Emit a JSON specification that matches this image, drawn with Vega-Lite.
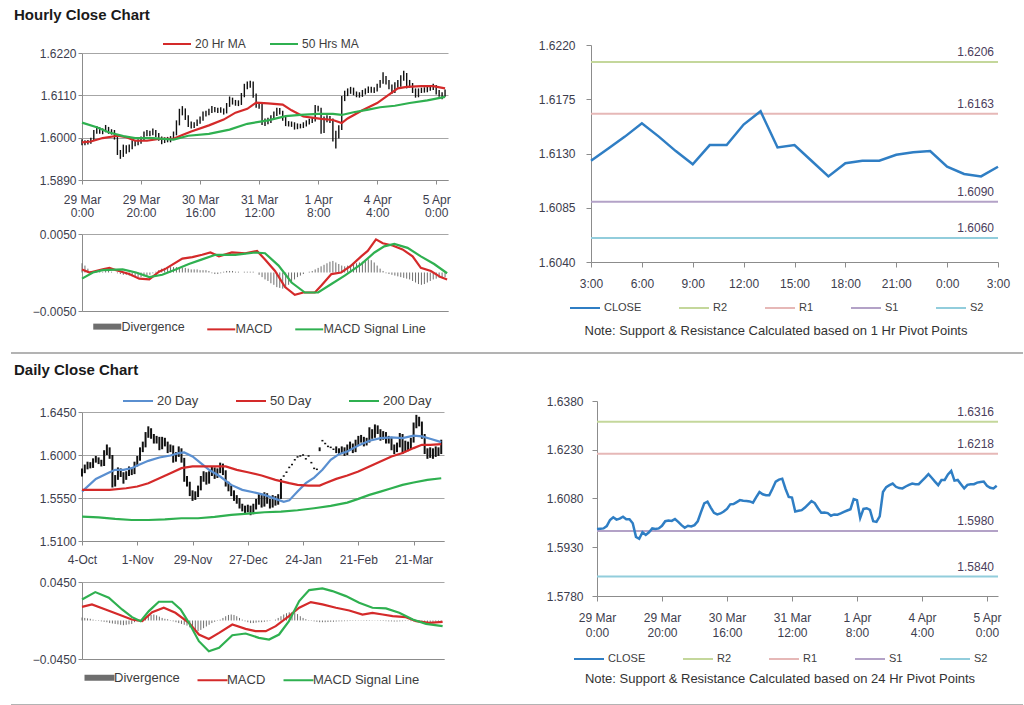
{
"$schema": "https://vega.github.io/schema/vega-lite/v6.json",
"background": "white",
"padding": {"left": 10, "top": 8, "right": 0, "bottom": 0},
"config": {
  "font": "Liberation Sans",
  "view": {"stroke": null},
  "axis": {"labelFont": "Liberation Sans", "labelFontSize": 12, "labelColor": "#3d3d4d", "domainColor": "#8c8c8c", "tickColor": "#8c8c8c", "gridColor": "#a6a6a6"},
  "legend": {"labelFont": "Liberation Sans", "labelFontSize": 12, "labelColor": "#3d3d3d", "padding": 0},
  "title": {"font": "Liberation Sans"}
},
"datasets": {
  "hourly": [
    {"h":0,"c":1.5986,"lo":1.5980,"hi":1.5996},{"h":1,"c":1.5987,"lo":1.5980,"hi":1.5993},{"h":2,"c":1.5988,"lo":1.5982,"hi":1.5994},{"h":3,"c":1.5995,"lo":1.5984,"hi":1.6000},{"h":4,"c":1.6014,"lo":1.5992,"hi":1.6020},{"h":5,"c":1.6022,"lo":1.6010,"hi":1.6030},{"h":6,"c":1.6015,"lo":1.6010,"hi":1.6027},{"h":7,"c":1.6018,"lo":1.6009,"hi":1.6024},{"h":8,"c":1.6024,"lo":1.6014,"hi":1.6033},{"h":9,"c":1.6016,"lo":1.6010,"hi":1.6028},
    {"h":10,"c":1.6016,"lo":1.6008,"hi":1.6022},{"h":11,"c":1.6004,"lo":1.5995,"hi":1.6020},{"h":12,"c":1.5962,"lo":1.5955,"hi":1.6008},{"h":13,"c":1.5956,"lo":1.5945,"hi":1.5968},{"h":14,"c":1.5976,"lo":1.5950,"hi":1.5982},{"h":15,"c":1.5968,"lo":1.5958,"hi":1.5980},{"h":16,"c":1.5976,"lo":1.5962,"hi":1.5982},{"h":17,"c":1.5988,"lo":1.5970,"hi":1.5993},{"h":18,"c":1.5986,"lo":1.5978,"hi":1.5994},{"h":19,"c":1.5988,"lo":1.5980,"hi":1.5996},
    {"h":20,"c":1.5996,"lo":1.5984,"hi":1.6003},{"h":21,"c":1.6010,"lo":1.5992,"hi":1.6016},{"h":22,"c":1.6012,"lo":1.6004,"hi":1.6020},{"h":23,"c":1.6011,"lo":1.6004,"hi":1.6018},{"h":24,"c":1.6017,"lo":1.6006,"hi":1.6024},{"h":25,"c":1.6008,"lo":1.6002,"hi":1.6020},{"h":26,"c":1.5998,"lo":1.5992,"hi":1.6012},{"h":27,"c":1.5990,"lo":1.5983,"hi":1.6003},{"h":28,"c":1.5996,"lo":1.5986,"hi":1.6001},{"h":29,"c":1.5994,"lo":1.5988,"hi":1.6002},
    {"h":30,"c":1.5998,"lo":1.5988,"hi":1.6004},{"h":31,"c":1.6010,"lo":1.5994,"hi":1.6016},{"h":32,"c":1.6038,"lo":1.6006,"hi":1.6045},{"h":33,"c":1.6065,"lo":1.6032,"hi":1.6075},{"h":34,"c":1.6070,"lo":1.6058,"hi":1.6082},{"h":35,"c":1.6052,"lo":1.6046,"hi":1.6076},{"h":36,"c":1.6036,"lo":1.6028,"hi":1.6058},{"h":37,"c":1.6031,"lo":1.6024,"hi":1.6042},{"h":38,"c":1.6034,"lo":1.6025,"hi":1.6040},{"h":39,"c":1.6040,"lo":1.6030,"hi":1.6047},
    {"h":40,"c":1.6048,"lo":1.6036,"hi":1.6055},{"h":41,"c":1.6062,"lo":1.6044,"hi":1.6068},{"h":42,"c":1.6063,"lo":1.6055,"hi":1.6070},{"h":43,"c":1.6069,"lo":1.6058,"hi":1.6075},{"h":44,"c":1.6075,"lo":1.6064,"hi":1.6082},{"h":45,"c":1.6073,"lo":1.6066,"hi":1.6080},{"h":46,"c":1.6072,"lo":1.6064,"hi":1.6078},{"h":47,"c":1.6071,"lo":1.6065,"hi":1.6079},{"h":48,"c":1.6067,"lo":1.6060,"hi":1.6076},{"h":49,"c":1.6084,"lo":1.6063,"hi":1.6090},
    {"h":50,"c":1.6100,"lo":1.6080,"hi":1.6107},{"h":51,"c":1.6093,"lo":1.6086,"hi":1.6104},{"h":52,"c":1.6090,"lo":1.6083,"hi":1.6098},{"h":53,"c":1.6090,"lo":1.6082,"hi":1.6097},{"h":54,"c":1.6110,"lo":1.6085,"hi":1.6116},{"h":55,"c":1.6132,"lo":1.6105,"hi":1.6140},{"h":56,"c":1.6138,"lo":1.6126,"hi":1.6146},{"h":57,"c":1.6141,"lo":1.6130,"hi":1.6148},{"h":58,"c":1.6110,"lo":1.6104,"hi":1.6146},{"h":59,"c":1.6085,"lo":1.6078,"hi":1.6115},
    {"h":60,"c":1.6083,"lo":1.6075,"hi":1.6092},{"h":61,"c":1.6040,"lo":1.6033,"hi":1.6088},{"h":62,"c":1.6042,"lo":1.6030,"hi":1.6050},{"h":63,"c":1.6044,"lo":1.6035,"hi":1.6052},{"h":64,"c":1.6052,"lo":1.6038,"hi":1.6058},{"h":65,"c":1.6062,"lo":1.6046,"hi":1.6068},{"h":66,"c":1.6072,"lo":1.6056,"hi":1.6078},{"h":67,"c":1.6066,"lo":1.6060,"hi":1.6077},{"h":68,"c":1.6050,"lo":1.6044,"hi":1.6070},{"h":69,"c":1.6036,"lo":1.6030,"hi":1.6054},
    {"h":70,"c":1.6037,"lo":1.6029,"hi":1.6043},{"h":71,"c":1.6035,"lo":1.6028,"hi":1.6042},{"h":72,"c":1.6027,"lo":1.6021,"hi":1.6040},{"h":73,"c":1.6031,"lo":1.6022,"hi":1.6037},{"h":74,"c":1.6030,"lo":1.6024,"hi":1.6036},{"h":75,"c":1.6034,"lo":1.6025,"hi":1.6040},{"h":76,"c":1.6039,"lo":1.6029,"hi":1.6045},{"h":77,"c":1.6043,"lo":1.6034,"hi":1.6049},{"h":78,"c":1.6047,"lo":1.6038,"hi":1.6053},{"h":79,"c":1.6078,"lo":1.6042,"hi":1.6085},
    {"h":80,"c":1.6075,"lo":1.6068,"hi":1.6083},{"h":81,"c":1.6020,"lo":1.6010,"hi":1.6078},{"h":82,"c":1.6048,"lo":1.6012,"hi":1.6055},{"h":83,"c":1.6050,"lo":1.6040,"hi":1.6058},{"h":84,"c":1.6045,"lo":1.6038,"hi":1.6056},{"h":85,"c":1.6010,"lo":1.5990,"hi":1.6050},{"h":86,"c":1.6008,"lo":1.5972,"hi":1.6018},{"h":87,"c":1.6025,"lo":1.5998,"hi":1.6032},{"h":88,"c":1.6100,"lo":1.6020,"hi":1.6108},{"h":89,"c":1.6115,"lo":1.6095,"hi":1.6122},
    {"h":90,"c":1.6121,"lo":1.6108,"hi":1.6128},{"h":91,"c":1.6126,"lo":1.6114,"hi":1.6132},{"h":92,"c":1.6116,"lo":1.6110,"hi":1.6130},{"h":93,"c":1.6112,"lo":1.6105,"hi":1.6120},{"h":94,"c":1.6111,"lo":1.6104,"hi":1.6118},{"h":95,"c":1.6117,"lo":1.6106,"hi":1.6124},{"h":96,"c":1.6122,"lo":1.6112,"hi":1.6128},{"h":97,"c":1.6126,"lo":1.6116,"hi":1.6133},{"h":98,"c":1.6124,"lo":1.6117,"hi":1.6132},{"h":99,"c":1.6124,"lo":1.6116,"hi":1.6131},
    {"h":100,"c":1.6134,"lo":1.6120,"hi":1.6140},{"h":101,"c":1.6144,"lo":1.6130,"hi":1.6150},{"h":102,"c":1.6155,"lo":1.6140,"hi":1.6170},{"h":103,"c":1.6144,"lo":1.6138,"hi":1.6160},{"h":104,"c":1.6132,"lo":1.6126,"hi":1.6150},{"h":105,"c":1.6121,"lo":1.6114,"hi":1.6138},{"h":106,"c":1.6137,"lo":1.6116,"hi":1.6144},{"h":107,"c":1.6137,"lo":1.6130,"hi":1.6150},{"h":108,"c":1.6154,"lo":1.6132,"hi":1.6162},{"h":109,"c":1.6165,"lo":1.6148,"hi":1.6174},
    {"h":110,"c":1.6135,"lo":1.6128,"hi":1.6168},{"h":111,"c":1.6137,"lo":1.6130,"hi":1.6150},{"h":112,"c":1.6124,"lo":1.6116,"hi":1.6142},{"h":113,"c":1.6111,"lo":1.6104,"hi":1.6128},{"h":114,"c":1.6122,"lo":1.6105,"hi":1.6128},{"h":115,"c":1.6124,"lo":1.6116,"hi":1.6130},{"h":116,"c":1.6124,"lo":1.6117,"hi":1.6131},{"h":117,"c":1.6129,"lo":1.6118,"hi":1.6135},{"h":118,"c":1.6131,"lo":1.6122,"hi":1.6137},{"h":119,"c":1.6132,"lo":1.6124,"hi":1.6140},
    {"h":120,"c":1.6119,"lo":1.6112,"hi":1.6137},{"h":121,"c":1.6113,"lo":1.6106,"hi":1.6124},{"h":122,"c":1.6111,"lo":1.6100,"hi":1.6118},{"h":123,"c":1.6119,"lo":1.6106,"hi":1.6125}
  ],
  "hma": [
    {"h":0,"s":"20 Hr MA","v":1.5988},{"h":3,"s":"20 Hr MA","v":1.5990},{"h":7,"s":"20 Hr MA","v":1.5999},{"h":12,"s":"20 Hr MA","v":1.6005},{"h":15,"s":"20 Hr MA","v":1.6001},{"h":18,"s":"20 Hr MA","v":1.5992},{"h":22,"s":"20 Hr MA","v":1.5992},{"h":26,"s":"20 Hr MA","v":1.5997},{"h":31,"s":"20 Hr MA","v":1.5997},{"h":34,"s":"20 Hr MA","v":1.6007},{"h":37,"s":"20 Hr MA","v":1.6016},{"h":43,"s":"20 Hr MA","v":1.6032},{"h":48,"s":"20 Hr MA","v":1.6047},{"h":52,"s":"20 Hr MA","v":1.6065},{"h":56,"s":"20 Hr MA","v":1.6075},{"h":59,"s":"20 Hr MA","v":1.6091},{"h":63,"s":"20 Hr MA","v":1.6089},{"h":68,"s":"20 Hr MA","v":1.6086},{"h":71,"s":"20 Hr MA","v":1.6071},{"h":75,"s":"20 Hr MA","v":1.6055},{"h":78,"s":"20 Hr MA","v":1.6052},{"h":81,"s":"20 Hr MA","v":1.6049},{"h":85,"s":"20 Hr MA","v":1.6046},{"h":88,"s":"20 Hr MA","v":1.6038},{"h":90,"s":"20 Hr MA","v":1.6050},{"h":95,"s":"20 Hr MA","v":1.6071},{"h":100,"s":"20 Hr MA","v":1.6090},{"h":104,"s":"20 Hr MA","v":1.6112},{"h":107,"s":"20 Hr MA","v":1.6128},{"h":110,"s":"20 Hr MA","v":1.6132},{"h":115,"s":"20 Hr MA","v":1.6134},{"h":119,"s":"20 Hr MA","v":1.6134},{"h":123,"s":"20 Hr MA","v":1.6128},
    {"h":0,"s":"50 Hrs MA","v":1.6039},{"h":5,"s":"50 Hrs MA","v":1.6027},{"h":9,"s":"50 Hrs MA","v":1.6014},{"h":14,"s":"50 Hrs MA","v":1.6004},{"h":18,"s":"50 Hrs MA","v":1.5999},{"h":24,"s":"50 Hrs MA","v":1.5999},{"h":31,"s":"50 Hrs MA","v":1.5995},{"h":36,"s":"50 Hrs MA","v":1.6005},{"h":43,"s":"50 Hrs MA","v":1.6010},{"h":50,"s":"50 Hrs MA","v":1.6021},{"h":56,"s":"50 Hrs MA","v":1.6036},{"h":63,"s":"50 Hrs MA","v":1.6045},{"h":69,"s":"50 Hrs MA","v":1.6056},{"h":74,"s":"50 Hrs MA","v":1.6059},{"h":80,"s":"50 Hrs MA","v":1.6062},{"h":85,"s":"50 Hrs MA","v":1.6062},{"h":88,"s":"50 Hrs MA","v":1.6059},{"h":92,"s":"50 Hrs MA","v":1.6066},{"h":97,"s":"50 Hrs MA","v":1.6073},{"h":101,"s":"50 Hrs MA","v":1.6079},{"h":106,"s":"50 Hrs MA","v":1.6083},{"h":111,"s":"50 Hrs MA","v":1.6090},{"h":117,"s":"50 Hrs MA","v":1.6097},{"h":123,"s":"50 Hrs MA","v":1.6106}
  ],
  "hmacd": [
    {"h":0,"s":"MACD","v":0.0004},{"h":2.6,"s":"MACD","v":0.0},{"h":7,"s":"MACD","v":0.0004},{"h":9.3,"s":"MACD","v":0.0006},{"h":11.6,"s":"MACD","v":0.0003},{"h":16,"s":"MACD","v":-0.0002},{"h":19.4,"s":"MACD","v":-0.0008},{"h":22.8,"s":"MACD","v":-0.0009},{"h":26.1,"s":"MACD","v":0.0001},{"h":28.4,"s":"MACD","v":0.0005},{"h":34,"s":"MACD","v":0.0018},{"h":37.4,"s":"MACD","v":0.0020},{"h":40.7,"s":"MACD","v":0.0023},{"h":43.5,"s":"MACD","v":0.0026},{"h":46.4,"s":"MACD","v":0.0021},{"h":50.8,"s":"MACD","v":0.0026},{"h":55.3,"s":"MACD","v":0.0025},{"h":59.3,"s":"MACD","v":0.0028},{"h":62,"s":"MACD","v":0.0017},{"h":65.4,"s":"MACD","v":0.0002},{"h":68.8,"s":"MACD","v":-0.0019},{"h":72.1,"s":"MACD","v":-0.0029},{"h":75,"s":"MACD","v":-0.0026},{"h":78.9,"s":"MACD","v":-0.0026},{"h":81.1,"s":"MACD","v":-0.0017},{"h":84.5,"s":"MACD","v":-0.0002},{"h":87.8,"s":"MACD","v":0.0},{"h":91.2,"s":"MACD","v":0.0009},{"h":94.6,"s":"MACD","v":0.0021},{"h":96.8,"s":"MACD","v":0.0028},{"h":99.6,"s":"MACD","v":0.0043},{"h":101.9,"s":"MACD","v":0.0038},{"h":105.2,"s":"MACD","v":0.0035},{"h":108.6,"s":"MACD","v":0.0030},{"h":112,"s":"MACD","v":0.0021},{"h":114.8,"s":"MACD","v":0.0006},{"h":118.2,"s":"MACD","v":0.0002},{"h":121.5,"s":"MACD","v":-0.0006},{"h":123.7,"s":"MACD","v":-0.0009},
    {"h":0,"s":"MACD Signal Line","v":-0.0008},{"h":3.7,"s":"MACD Signal Line","v":0.0},{"h":7,"s":"MACD Signal Line","v":0.0003},{"h":13.8,"s":"MACD Signal Line","v":0.0004},{"h":18.3,"s":"MACD Signal Line","v":0.0},{"h":22.8,"s":"MACD Signal Line","v":-0.0006},{"h":27.2,"s":"MACD Signal Line","v":-0.0003},{"h":31.7,"s":"MACD Signal Line","v":0.0004},{"h":36.2,"s":"MACD Signal Line","v":0.0011},{"h":40.7,"s":"MACD Signal Line","v":0.0017},{"h":45.2,"s":"MACD Signal Line","v":0.0023},{"h":51.9,"s":"MACD Signal Line","v":0.0023},{"h":58.7,"s":"MACD Signal Line","v":0.0026},{"h":62,"s":"MACD Signal Line","v":0.0025},{"h":66.6,"s":"MACD Signal Line","v":0.0009},{"h":71,"s":"MACD Signal Line","v":-0.0013},{"h":75.5,"s":"MACD Signal Line","v":-0.0026},{"h":80,"s":"MACD Signal Line","v":-0.0026},{"h":84.5,"s":"MACD Signal Line","v":-0.0015},{"h":89,"s":"MACD Signal Line","v":-0.0004},{"h":94.6,"s":"MACD Signal Line","v":0.0011},{"h":99.1,"s":"MACD Signal Line","v":0.0026},{"h":102.4,"s":"MACD Signal Line","v":0.0034},{"h":105.8,"s":"MACD Signal Line","v":0.0037},{"h":110.3,"s":"MACD Signal Line","v":0.0032},{"h":114.8,"s":"MACD Signal Line","v":0.0021},{"h":119.3,"s":"MACD Signal Line","v":0.0011},{"h":123.7,"s":"MACD Signal Line","v":-0.0001}
  ],
  "hdiv": [
    {"h":0,"d":0.0012},{"h":1,"d":0.0009},{"h":2,"d":0.0005},{"h":3,"d":0.0002},{"h":4,"d":0.0001},{"h":5,"d":0.0001},{"h":6,"d":0.0001},{"h":7,"d":0.0001},{"h":8,"d":0.0002},{"h":9,"d":0.0002},{"h":10,"d":0.0001},{"h":11,"d":0.0},{"h":12,"d":-0.0001},{"h":13,"d":-0.0002},{"h":14,"d":-0.0003},{"h":15,"d":-0.0003},{"h":16,"d":-0.0004},{"h":17,"d":-0.0005},{"h":18,"d":-0.0006},{"h":19,"d":-0.0006},{"h":20,"d":-0.0006},{"h":21,"d":-0.0005},{"h":22,"d":-0.0004},{"h":23,"d":-0.0003},{"h":24,"d":-0.0001},{"h":25,"d":0.0001},{"h":26,"d":0.0003},{"h":27,"d":0.0005},{"h":28,"d":0.0006},{"h":29,"d":0.0006},{"h":30,"d":0.0007},{"h":31,"d":0.0007},{"h":32,"d":0.0007},{"h":33,"d":0.0007},{"h":34,"d":0.0006},{"h":35,"d":0.0006},{"h":36,"d":0.0005},{"h":37,"d":0.0004},{"h":38,"d":0.0004},{"h":39,"d":0.0004},{"h":40,"d":0.0003},{"h":41,"d":0.0003},{"h":42,"d":0.0003},{"h":43,"d":0.0002},{"h":44,"d":-0.0001},{"h":45,"d":-0.0002},{"h":46,"d":-0.0002},{"h":47,"d":-0.0001},{"h":48,"d":0.0001},{"h":49,"d":0.0002},{"h":50,"d":0.0002},{"h":51,"d":0.0002},{"h":52,"d":0.0001},{"h":53,"d":0.0001},{"h":54,"d":0.0},{"h":55,"d":0.0001},{"h":56,"d":0.0001},{"h":57,"d":0.0001},{"h":58,"d":0.0001},{"h":59,"d":0.0},{"h":60,"d":-0.0003},{"h":61,"d":-0.0006},{"h":62,"d":-0.0009},{"h":63,"d":-0.0011},{"h":64,"d":-0.0014},{"h":65,"d":-0.0016},{"h":66,"d":-0.0019},{"h":67,"d":-0.0020},{"h":68,"d":-0.0021},{"h":69,"d":-0.0019},{"h":70,"d":-0.0016},{"h":71,"d":-0.0012},{"h":72,"d":-0.0009},{"h":73,"d":-0.0006},{"h":74,"d":-0.0004},{"h":75,"d":-0.0002},{"h":76,"d":0.0},{"h":77,"d":0.0001},{"h":78,"d":0.0002},{"h":79,"d":0.0004},{"h":80,"d":0.0006},{"h":81,"d":0.0008},{"h":82,"d":0.0010},{"h":83,"d":0.0012},{"h":84,"d":0.0014},{"h":85,"d":0.0015},{"h":86,"d":0.0013},{"h":87,"d":0.0011},{"h":88,"d":0.0009},{"h":89,"d":0.0008},{"h":90,"d":0.0009},{"h":91,"d":0.0010},{"h":92,"d":0.0011},{"h":93,"d":0.0012},{"h":94,"d":0.0013},{"h":95,"d":0.0014},{"h":96,"d":0.0015},{"h":97,"d":0.0017},{"h":98,"d":0.0016},{"h":99,"d":0.0013},{"h":100,"d":0.0009},{"h":101,"d":0.0005},{"h":102,"d":0.0002},{"h":103,"d":-0.0001},{"h":104,"d":-0.0002},{"h":105,"d":-0.0003},{"h":106,"d":-0.0004},{"h":107,"d":-0.0005},{"h":108,"d":-0.0006},{"h":109,"d":-0.0007},{"h":110,"d":-0.0008},{"h":111,"d":-0.0009},{"h":112,"d":-0.0011},{"h":113,"d":-0.0013},{"h":114,"d":-0.0015},{"h":115,"d":-0.0016},{"h":116,"d":-0.0015},{"h":117,"d":-0.0013},{"h":118,"d":-0.0011},{"h":119,"d":-0.0009},{"h":120,"d":-0.0008},{"h":121,"d":-0.0007},{"h":122,"d":-0.0007},{"h":123,"d":-0.0006}
  ],
  "hlev": [{"s":"R2","v":1.6206},{"s":"R1","v":1.6163},{"s":"S1","v":1.6090},{"s":"S2","v":1.6060}],
  "dlev": [{"s":"R2","v":1.6316},{"s":"R1","v":1.6218},{"s":"S1","v":1.5980},{"s":"S2","v":1.5840}],
  "daily": [
    {"i":0,"lo":1.5775,"hi":1.5860},{"i":1,"lo":1.5810,"hi":1.5900},{"i":2,"lo":1.5850,"hi":1.5930},{"i":3,"lo":1.5860,"hi":1.5925},{"i":4,"lo":1.5865,"hi":1.5965},{"i":5,"lo":1.5920,"hi":1.5990},{"i":6,"lo":1.5905,"hi":1.5975},{"i":7,"lo":1.5880,"hi":1.5950},{"i":8,"lo":1.5885,"hi":1.6050},{"i":9,"lo":1.6000,"hi":1.6110},
    {"i":10,"lo":1.5960,"hi":1.6080},{"i":11,"lo":1.5660,"hi":1.6000},{"i":12,"lo":1.5670,"hi":1.5790},{"i":13,"lo":1.5740,"hi":1.5870},{"i":14,"lo":1.5770,"hi":1.5860},{"i":15,"lo":1.5700,"hi":1.5820},{"i":16,"lo":1.5740,"hi":1.5830},{"i":17,"lo":1.5780,"hi":1.5880},{"i":18,"lo":1.5790,"hi":1.5870},{"i":19,"lo":1.5800,"hi":1.5930},
    {"i":20,"lo":1.5880,"hi":1.5990},{"i":21,"lo":1.5940,"hi":1.6080},{"i":22,"lo":1.6030,"hi":1.6140},{"i":23,"lo":1.6080,"hi":1.6240},{"i":24,"lo":1.6180,"hi":1.6300},{"i":25,"lo":1.6170,"hi":1.6280},{"i":26,"lo":1.6120,"hi":1.6220},{"i":27,"lo":1.6120,"hi":1.6200},{"i":28,"lo":1.6050,"hi":1.6190},{"i":29,"lo":1.6060,"hi":1.6190},
    {"i":30,"lo":1.6090,"hi":1.6180},{"i":31,"lo":1.6020,"hi":1.6140},{"i":32,"lo":1.6030,"hi":1.6110},{"i":33,"lo":1.5920,"hi":1.6100},{"i":34,"lo":1.5930,"hi":1.6030},{"i":35,"lo":1.5980,"hi":1.6090},{"i":36,"lo":1.5920,"hi":1.6070},{"i":37,"lo":1.5720,"hi":1.5970},{"i":38,"lo":1.5670,"hi":1.5780},{"i":39,"lo":1.5570,"hi":1.5720},
    {"i":40,"lo":1.5520,"hi":1.5630},{"i":41,"lo":1.5530,"hi":1.5620},{"i":42,"lo":1.5560,"hi":1.5680},{"i":43,"lo":1.5630,"hi":1.5780},{"i":44,"lo":1.5720,"hi":1.5830},{"i":45,"lo":1.5690,"hi":1.5820},{"i":46,"lo":1.5700,"hi":1.5830},{"i":47,"lo":1.5780,"hi":1.5880},{"i":48,"lo":1.5750,"hi":1.5870},{"i":49,"lo":1.5760,"hi":1.5860},
    {"i":50,"lo":1.5810,"hi":1.5920},{"i":51,"lo":1.5790,"hi":1.5910},{"i":52,"lo":1.5670,"hi":1.5840},{"i":53,"lo":1.5620,"hi":1.5720},{"i":54,"lo":1.5570,"hi":1.5680},{"i":55,"lo":1.5520,"hi":1.5630},{"i":56,"lo":1.5490,"hi":1.5580},{"i":57,"lo":1.5440,"hi":1.5550},{"i":58,"lo":1.5410,"hi":1.5490},{"i":59,"lo":1.5390,"hi":1.5470},
    {"i":60,"lo":1.5400,"hi":1.5480},{"i":61,"lo":1.5370,"hi":1.5470},{"i":62,"lo":1.5380,"hi":1.5490},{"i":63,"lo":1.5430,"hi":1.5540},{"i":64,"lo":1.5480,"hi":1.5590},{"i":65,"lo":1.5450,"hi":1.5580},{"i":66,"lo":1.5460,"hi":1.5610},{"i":67,"lo":1.5490,"hi":1.5600},{"i":68,"lo":1.5440,"hi":1.5540},{"i":69,"lo":1.5450,"hi":1.5580},
    {"i":70,"lo":1.5470,"hi":1.5570},{"i":71,"lo":1.5480,"hi":1.5590},{"i":72,"lo":1.5540,"hi":1.5750},{"i":73,"lo":1.5772,"hi":1.5788},{"i":74,"lo":1.5812,"hi":1.5828},{"i":75,"lo":1.5862,"hi":1.5878},{"i":76,"lo":1.5892,"hi":1.5908},{"i":77,"lo":1.5942,"hi":1.5958},{"i":78,"lo":1.5972,"hi":1.5988},{"i":79,"lo":1.5982,"hi":1.5998},
    {"i":80,"lo":1.5992,"hi":1.6008},{"i":81,"lo":1.5952,"hi":1.5968},{"i":82,"lo":1.5982,"hi":1.5998},{"i":83,"lo":1.5912,"hi":1.5928},{"i":84,"lo":1.5852,"hi":1.5868},{"i":85,"lo":1.5842,"hi":1.5858},{"i":86,"lo":1.6040,"hi":1.6080},{"i":87,"lo":1.6142,"hi":1.6158},{"i":88,"lo":1.6112,"hi":1.6128},{"i":89,"lo":1.6082,"hi":1.6098},
    {"i":90,"lo":1.6072,"hi":1.6088},{"i":91,"lo":1.6052,"hi":1.6068},{"i":92,"lo":1.6020,"hi":1.6090},{"i":93,"lo":1.6000,"hi":1.6070},{"i":94,"lo":1.6010,"hi":1.6090},{"i":95,"lo":1.5990,"hi":1.6080},{"i":96,"lo":1.6000,"hi":1.6110},{"i":97,"lo":1.6050,"hi":1.6140},{"i":98,"lo":1.6020,"hi":1.6120},{"i":99,"lo":1.6030,"hi":1.6160},
    {"i":100,"lo":1.6100,"hi":1.6200},{"i":101,"lo":1.6130,"hi":1.6210},{"i":102,"lo":1.6090,"hi":1.6190},{"i":103,"lo":1.6100,"hi":1.6180},{"i":104,"lo":1.6130,"hi":1.6290},{"i":105,"lo":1.6170,"hi":1.6270},{"i":106,"lo":1.6180,"hi":1.6320},{"i":107,"lo":1.6220,"hi":1.6310},{"i":108,"lo":1.6150,"hi":1.6270},{"i":109,"lo":1.6160,"hi":1.6250},
    {"i":110,"lo":1.6120,"hi":1.6240},{"i":111,"lo":1.6120,"hi":1.6200},{"i":112,"lo":1.6050,"hi":1.6190},{"i":113,"lo":1.6010,"hi":1.6110},{"i":114,"lo":1.6030,"hi":1.6130},{"i":115,"lo":1.6080,"hi":1.6230},{"i":116,"lo":1.6010,"hi":1.6220},{"i":117,"lo":1.6030,"hi":1.6150},{"i":118,"lo":1.6040,"hi":1.6140},{"i":119,"lo":1.6060,"hi":1.6180},
    {"i":120,"lo":1.6130,"hi":1.6340},{"i":121,"lo":1.6280,"hi":1.6420},{"i":122,"lo":1.6300,"hi":1.6400},{"i":123,"lo":1.6170,"hi":1.6350},{"i":124,"lo":1.6010,"hi":1.6220},{"i":125,"lo":1.5960,"hi":1.6070},{"i":126,"lo":1.5970,"hi":1.6080},{"i":127,"lo":1.5960,"hi":1.6070},{"i":128,"lo":1.5980,"hi":1.6090},{"i":129,"lo":1.5990,"hi":1.6080},{"i":130,"lo":1.6010,"hi":1.6160}
  ],
  "dma": [
    {"i":0,"s":"20 Day","v":1.5617},{"i":5,"s":"20 Day","v":1.5750},{"i":10,"s":"20 Day","v":1.5820},{"i":12,"s":"20 Day","v":1.5845},{"i":15,"s":"20 Day","v":1.5845},{"i":18,"s":"20 Day","v":1.5862},{"i":20,"s":"20 Day","v":1.5890},{"i":24,"s":"20 Day","v":1.5939},{"i":28,"s":"20 Day","v":1.5974},{"i":32,"s":"20 Day","v":1.5995},{"i":35,"s":"20 Day","v":1.6020},{"i":37,"s":"20 Day","v":1.6027},{"i":40,"s":"20 Day","v":1.5985},{"i":43,"s":"20 Day","v":1.5915},{"i":46,"s":"20 Day","v":1.5845},{"i":50,"s":"20 Day","v":1.5775},{"i":54,"s":"20 Day","v":1.5687},{"i":58,"s":"20 Day","v":1.5635},{"i":62,"s":"20 Day","v":1.5610},{"i":66,"s":"20 Day","v":1.5583},{"i":70,"s":"20 Day","v":1.5541},{"i":73,"s":"20 Day","v":1.5510},{"i":75,"s":"20 Day","v":1.5525},{"i":78,"s":"20 Day","v":1.5617},{"i":81,"s":"20 Day","v":1.5705},{"i":84,"s":"20 Day","v":1.5764},{"i":87,"s":"20 Day","v":1.5845},{"i":90,"s":"20 Day","v":1.5950},{"i":93,"s":"20 Day","v":1.6009},{"i":96,"s":"20 Day","v":1.6037},{"i":100,"s":"20 Day","v":1.6100},{"i":104,"s":"20 Day","v":1.6149},{"i":108,"s":"20 Day","v":1.6177},{"i":112,"s":"20 Day","v":1.6184},{"i":116,"s":"20 Day","v":1.6177},{"i":120,"s":"20 Day","v":1.6202},{"i":123,"s":"20 Day","v":1.6195},{"i":126,"s":"20 Day","v":1.6170},{"i":130,"s":"20 Day","v":1.6135},
    {"i":0,"s":"50 Day","v":1.5635},{"i":10,"s":"50 Day","v":1.5635},{"i":16,"s":"50 Day","v":1.5652},{"i":20,"s":"50 Day","v":1.5670},{"i":24,"s":"50 Day","v":1.5705},{"i":28,"s":"50 Day","v":1.5757},{"i":32,"s":"50 Day","v":1.5810},{"i":36,"s":"50 Day","v":1.5862},{"i":40,"s":"50 Day","v":1.5880},{"i":45,"s":"50 Day","v":1.5880},{"i":52,"s":"50 Day","v":1.5880},{"i":56,"s":"50 Day","v":1.5845},{"i":60,"s":"50 Day","v":1.5820},{"i":65,"s":"50 Day","v":1.5785},{"i":70,"s":"50 Day","v":1.5740},{"i":75,"s":"50 Day","v":1.5705},{"i":78,"s":"50 Day","v":1.5687},{"i":82,"s":"50 Day","v":1.5680},{"i":86,"s":"50 Day","v":1.5680},{"i":88,"s":"50 Day","v":1.5705},{"i":92,"s":"50 Day","v":1.5750},{"i":96,"s":"50 Day","v":1.5785},{"i":100,"s":"50 Day","v":1.5827},{"i":104,"s":"50 Day","v":1.5880},{"i":108,"s":"50 Day","v":1.5932},{"i":112,"s":"50 Day","v":1.5985},{"i":116,"s":"50 Day","v":1.6020},{"i":120,"s":"50 Day","v":1.6072},{"i":123,"s":"50 Day","v":1.6107},{"i":126,"s":"50 Day","v":1.6107},{"i":130,"s":"50 Day","v":1.6114},
    {"i":0,"s":"200 Day","v":1.5355},{"i":6,"s":"200 Day","v":1.5348},{"i":12,"s":"200 Day","v":1.5331},{"i":18,"s":"200 Day","v":1.5320},{"i":24,"s":"200 Day","v":1.5320},{"i":30,"s":"200 Day","v":1.5327},{"i":36,"s":"200 Day","v":1.5338},{"i":42,"s":"200 Day","v":1.5338},{"i":48,"s":"200 Day","v":1.5352},{"i":54,"s":"200 Day","v":1.5373},{"i":60,"s":"200 Day","v":1.5387},{"i":66,"s":"200 Day","v":1.5401},{"i":72,"s":"200 Day","v":1.5408},{"i":78,"s":"200 Day","v":1.5422},{"i":84,"s":"200 Day","v":1.5443},{"i":90,"s":"200 Day","v":1.5467},{"i":96,"s":"200 Day","v":1.5502},{"i":100,"s":"200 Day","v":1.5541},{"i":104,"s":"200 Day","v":1.5583},{"i":108,"s":"200 Day","v":1.5617},{"i":112,"s":"200 Day","v":1.5652},{"i":116,"s":"200 Day","v":1.5687},{"i":120,"s":"200 Day","v":1.5712},{"i":125,"s":"200 Day","v":1.5740},{"i":130,"s":"200 Day","v":1.5757}
  ],
  "dmacd": [
    {"i":0,"s":"MACD","v":0.0160},{"i":3.6,"s":"MACD","v":0.0188},{"i":8.5,"s":"MACD","v":0.0129},{"i":13.3,"s":"MACD","v":0.0070},{"i":18,"s":"MACD","v":0.0012},{"i":21.8,"s":"MACD","v":-0.0008},{"i":25.4,"s":"MACD","v":0.0098},{"i":29.6,"s":"MACD","v":0.0149},{"i":33.8,"s":"MACD","v":0.0090},{"i":38.7,"s":"MACD","v":-0.0027},{"i":42.3,"s":"MACD","v":-0.0164},{"i":45.9,"s":"MACD","v":-0.0215},{"i":49.6,"s":"MACD","v":-0.0145},{"i":54.4,"s":"MACD","v":-0.0047},{"i":59.2,"s":"MACD","v":-0.0098},{"i":62.8,"s":"MACD","v":-0.0125},{"i":66.5,"s":"MACD","v":-0.0125},{"i":70.1,"s":"MACD","v":-0.0066},{"i":74.9,"s":"MACD","v":0.0051},{"i":78.6,"s":"MACD","v":0.0149},{"i":82.8,"s":"MACD","v":0.0215},{"i":87,"s":"MACD","v":0.0188},{"i":91.9,"s":"MACD","v":0.0149},{"i":96.7,"s":"MACD","v":0.0117},{"i":101.5,"s":"MACD","v":0.0070},{"i":105.1,"s":"MACD","v":0.0090},{"i":108.8,"s":"MACD","v":0.0070},{"i":112.4,"s":"MACD","v":0.0051},{"i":117.2,"s":"MACD","v":0.0039},{"i":120.9,"s":"MACD","v":-0.0008},{"i":125.7,"s":"MACD","v":-0.0027},{"i":130.5,"s":"MACD","v":-0.0016},
    {"i":0,"s":"MACD Signal Line","v":0.0246},{"i":4.8,"s":"MACD Signal Line","v":0.0332},{"i":9.7,"s":"MACD Signal Line","v":0.0266},{"i":14.5,"s":"MACD Signal Line","v":0.0129},{"i":18.1,"s":"MACD Signal Line","v":0.0039},{"i":21.2,"s":"MACD Signal Line","v":-0.0008},{"i":24.2,"s":"MACD Signal Line","v":0.0110},{"i":27.8,"s":"MACD Signal Line","v":0.0219},{"i":32.6,"s":"MACD Signal Line","v":0.0219},{"i":35.7,"s":"MACD Signal Line","v":0.0129},{"i":38.7,"s":"MACD Signal Line","v":-0.0027},{"i":42.3,"s":"MACD Signal Line","v":-0.0242},{"i":45.9,"s":"MACD Signal Line","v":-0.0360},{"i":49.6,"s":"MACD Signal Line","v":-0.0320},{"i":54.4,"s":"MACD Signal Line","v":-0.0172},{"i":59.2,"s":"MACD Signal Line","v":-0.0152},{"i":64,"s":"MACD Signal Line","v":-0.0203},{"i":67.7,"s":"MACD Signal Line","v":-0.0223},{"i":71.3,"s":"MACD Signal Line","v":-0.0164},{"i":74.9,"s":"MACD Signal Line","v":-0.0008},{"i":78.6,"s":"MACD Signal Line","v":0.0227},{"i":82.2,"s":"MACD Signal Line","v":0.0356},{"i":87,"s":"MACD Signal Line","v":0.0375},{"i":90.6,"s":"MACD Signal Line","v":0.0344},{"i":95.5,"s":"MACD Signal Line","v":0.0285},{"i":100.3,"s":"MACD Signal Line","v":0.0207},{"i":105.1,"s":"MACD Signal Line","v":0.0149},{"i":110,"s":"MACD Signal Line","v":0.0141},{"i":114.8,"s":"MACD Signal Line","v":0.0090},{"i":119.7,"s":"MACD Signal Line","v":0.0012},{"i":124.5,"s":"MACD Signal Line","v":-0.0039},{"i":130.5,"s":"MACD Signal Line","v":-0.0066}
  ],
  "ddiv": [
    {"i":0,"d":0.0035},{"i":1,"d":0.003},{"i":2,"d":0.0025},{"i":3,"d":0.002},{"i":4,"d":0.001},{"i":5,"d":0.0005},{"i":6,"d":-0.0005},{"i":7,"d":-0.001},{"i":8,"d":-0.0015},{"i":9,"d":-0.002},{"i":10,"d":-0.003},{"i":11,"d":-0.0035},{"i":12,"d":-0.004},{"i":13,"d":-0.0045},{"i":14,"d":-0.005},{"i":15,"d":-0.0055},{"i":16,"d":-0.005},{"i":17,"d":-0.0045},{"i":18,"d":-0.004},{"i":19,"d":-0.002},{"i":20,"d":-0.001},{"i":21,"d":0.0005},{"i":22,"d":0.002},{"i":23,"d":0.004},{"i":24,"d":0.0055},{"i":25,"d":0.0065},{"i":26,"d":0.007},{"i":27,"d":0.006},{"i":28,"d":0.0045},{"i":29,"d":0.003},{"i":30,"d":0.002},{"i":31,"d":0.0015},{"i":32,"d":0.0005},{"i":33,"d":-0.001},{"i":34,"d":-0.002},{"i":35,"d":-0.003},{"i":36,"d":-0.004},{"i":37,"d":-0.005},{"i":38,"d":-0.006},{"i":39,"d":-0.008},{"i":40,"d":-0.01},{"i":41,"d":-0.0115},{"i":42,"d":-0.0125},{"i":43,"d":-0.011},{"i":44,"d":-0.009},{"i":45,"d":-0.007},{"i":46,"d":-0.005},{"i":47,"d":-0.003},{"i":48,"d":-0.0015},{"i":49,"d":-0.0005},{"i":50,"d":0.001},{"i":51,"d":0.003},{"i":52,"d":0.005},{"i":53,"d":0.0065},{"i":54,"d":0.007},{"i":55,"d":0.0065},{"i":56,"d":0.005},{"i":57,"d":0.003},{"i":58,"d":0.001},{"i":59,"d":-0.001},{"i":60,"d":-0.002},{"i":61,"d":-0.003},{"i":62,"d":-0.003},{"i":63,"d":-0.0025},{"i":64,"d":-0.002},{"i":65,"d":-0.002},{"i":66,"d":-0.0015},{"i":67,"d":-0.001},{"i":68,"d":-0.0005},{"i":69,"d":0.0},{"i":70,"d":0.001},{"i":71,"d":0.003},{"i":72,"d":0.005},{"i":73,"d":0.007},{"i":74,"d":0.0085},{"i":75,"d":0.0095},{"i":76,"d":0.0098},{"i":77,"d":0.009},{"i":78,"d":0.0075},{"i":79,"d":0.005},{"i":80,"d":0.003},{"i":81,"d":0.0015},{"i":82,"d":0.0005},{"i":83,"d":-0.0005},{"i":84,"d":-0.001},{"i":85,"d":-0.0015},{"i":86,"d":-0.002},{"i":87,"d":-0.002},{"i":88,"d":-0.002},{"i":89,"d":-0.0018},{"i":90,"d":-0.0015},{"i":91,"d":-0.0015},{"i":92,"d":-0.0012},{"i":93,"d":-0.001},{"i":94,"d":-0.001},{"i":95,"d":-0.0008},{"i":96,"d":-0.0008},{"i":97,"d":-0.0006},{"i":98,"d":-0.0005},{"i":99,"d":-0.0005},{"i":100,"d":-0.0004},{"i":101,"d":-0.0004},{"i":102,"d":-0.0005},{"i":103,"d":-0.0006},{"i":104,"d":-0.0005},{"i":105,"d":-0.0004},{"i":106,"d":-0.0003},{"i":107,"d":-0.0004},{"i":108,"d":-0.0005},{"i":109,"d":-0.0006},{"i":110,"d":-0.0008},{"i":111,"d":-0.001},{"i":112,"d":-0.001},{"i":113,"d":-0.0012},{"i":114,"d":-0.0012},{"i":115,"d":-0.001},{"i":116,"d":-0.0008},{"i":117,"d":-0.0006},{"i":118,"d":-0.0005},{"i":119,"d":-0.0008},{"i":120,"d":-0.001},{"i":121,"d":-0.0015},{"i":122,"d":-0.002},{"i":123,"d":-0.0025},{"i":124,"d":-0.0025},{"i":125,"d":-0.002},{"i":126,"d":-0.0018},{"i":127,"d":-0.0015},{"i":128,"d":-0.0012},{"i":129,"d":-0.001},{"i":130,"d":-0.0008}
  ]
},
"spacing": 9,
"resolve": {"scale": {"color": "independent"}, "legend": {"color": "independent"}},
"vconcat": [
 {"spacing": 13, "resolve": {"scale": {"color": "independent"}, "legend": {"color": "independent"}}, "vconcat": [
  {"title": {"text": "Hourly Close Chart", "anchor": "start", "fontSize": 15, "fontWeight": "bold", "color": "#1a1a1a", "offset": 6, "dx": 3},
   "spacing": 86,
   "resolve": {"scale": {"color": "independent"}, "legend": {"color": "independent"}},
   "hconcat": [
    {"spacing": -22, "resolve": {"scale": {"color": "independent"}, "legend": {"color": "independent"}}, "vconcat": [
     {"width": 1, "height": 1, "data": {"values": [{"t": ""}]}, "mark": {"type": "text"}, "encoding": {"text": {"field": "t", "type": "nominal"}}},
     {"spacing": 10, "resolve": {"scale": {"color": "independent"}, "legend": {"color": "independent"}}, "vconcat": [
      {"width": 366, "height": 127,
       "layer": [
        {"data": {"name": "hourly"}, "mark": {"type": "rule", "color": "#111111", "strokeWidth": 1.4},
         "encoding": {
          "x": {"field": "h", "type": "quantitative", "title": null, "scale": {"domain": [0, 124], "nice": false, "zero": false},
                "axis": {"values": [0,20,40,60,80,100,120], "labelExpr": "[['29 Mar','0:00'],['29 Mar','20:00'],['30 Mar','16:00'],['31 Mar','12:00'],['1 Apr','8:00'],['4 Apr','4:00'],['5 Apr','0:00']][round(datum.value/20)]", "grid": false, "tickSize": 4, "labelPadding": 10, "labelLineHeight": 13, "labelFlush": false, "labelOverlap": false}},
          "y": {"field": "lo", "type": "quantitative", "title": null, "scale": {"domain": [1.589, 1.622], "nice": false, "zero": false},
                "axis": {"values": [1.589, 1.6, 1.611, 1.622], "format": ".4f", "grid": true, "tickSize": 4, "labelPadding": 2, "minExtent": 71}},
          "y2": {"field": "hi"}
         }},
        {"data": {"name": "hma"}, "mark": {"type": "line", "strokeWidth": 2.2},
         "encoding": {
          "x": {"field": "h", "type": "quantitative", "title": null},
          "y": {"field": "v", "type": "quantitative", "title": null},
          "color": {"field": "s", "type": "nominal", "title": null, "scale": {"domain": ["20 Hr MA", "50 Hrs MA"], "range": ["#d42a2a", "#2fb050"]},
                    "legend": {"orient": "none", "legendX": 80, "legendY": -24, "direction": "horizontal", "title": null, "symbolType": "stroke", "symbolSize": 784, "symbolStrokeWidth": 2, "columnPadding": 20, "labelOffset": 3}}
         }}
       ]},
      {"width": 366, "height": 77,
       "layer": [
        {"data": {"name": "hdiv"}, "mark": {"type": "rule", "strokeWidth": 1},
         "encoding": {
          "x": {"field": "h", "type": "quantitative", "title": null, "scale": {"domain": [0, 124], "nice": false, "zero": false}, "axis": {"labels": false, "ticks": false, "grid": false, "domain": true}},
          "y": {"field": "d", "type": "quantitative", "title": null, "scale": {"domain": [-0.005, 0.005], "nice": false}, "axis": {"values": [-0.005, 0, 0.005], "format": ".4f", "grid": true, "tickSize": 4, "labelPadding": 2, "minExtent": 71}},
          "y2": {"datum": 0},
          "color": {"datum": "Divergence", "title": null, "scale": {"domain": ["Divergence", "MACD", "MACD Signal Line"], "range": ["#6e6e6e", "#d42a2a", "#2fb050"]},
                    "legend": {"orient": "none", "legendX": 19, "legendY": 86, "direction": "horizontal", "title": null, "symbolType": "stroke", "symbolSize": 784, "symbolStrokeWidth": 2, "columnPadding": 18, "labelOffset": 8, "labelFontSize": 12.5,
                               "encode": {"symbols": {"update": {"strokeWidth": {"signal": "datum.label === 'Divergence' ? 6 : 2"}}}}}}
         }},
        {"data": {"name": "hmacd"}, "mark": {"type": "line", "strokeWidth": 2.2},
         "encoding": {
          "x": {"field": "h", "type": "quantitative", "title": null},
          "y": {"field": "v", "type": "quantitative", "title": null},
          "color": {"field": "s", "type": "nominal", "title": null}
         }}
       ]}
     ]}
    ]},
    {"width": 407, "height": 217,
     "layer": [
      {"data": {"name": "hlev"}, "mark": {"type": "rule", "strokeWidth": 2},
       "encoding": {
        "y": {"field": "v", "type": "quantitative", "title": null, "scale": {"domain": [1.604, 1.622], "nice": false, "zero": false},
              "axis": {"values": [1.604, 1.6085, 1.613, 1.6175, 1.622], "format": ".4f", "grid": false, "tickSize": 5, "labelPadding": 11}},
        "color": {"field": "s", "type": "nominal", "title": null, "scale": {"domain": ["CLOSE", "R2", "R1", "S1", "S2"], "range": ["#2f7ec4", "#c4d79b", "#e6b8b7", "#b3a2c7", "#92cddc"]},
                  "legend": {"orient": "none", "legendX": -22, "legendY": 247, "direction": "horizontal", "title": "Note: Support & Resistance Calculated based on 1 Hr Pivot Points", "titleOrient": "bottom", "titleAnchor": "middle", "titleFontWeight": "normal", "titleFontSize": 13, "titleColor": "#333333", "titleLimit": 600, "titlePadding": 12, "titleFont": "Liberation Sans", "symbolType": "stroke", "symbolSize": 900, "symbolStrokeWidth": 2, "labelFontSize": 11, "columnPadding": 33, "labelOffset": 3}}
       }},
      {"data": {"name": "hlev"}, "mark": {"type": "text", "align": "right", "baseline": "bottom", "dx": -4, "dy": -3, "fontSize": 12, "color": "#4a3d5c"},
       "encoding": {
        "x": {"datum": 123},
        "y": {"field": "v", "type": "quantitative", "title": null},
        "text": {"field": "v", "type": "quantitative", "format": ".4f"}
       }},
      {"data": {"name": "hourly"}, "transform": [{"filter": "datum.h >= 99"}], "mark": {"type": "line", "strokeWidth": 2.5},
       "encoding": {
        "x": {"field": "h", "type": "quantitative", "title": null, "scale": {"domain": [99, 123], "nice": false, "zero": false},
              "axis": {"values": [99,102,105,108,111,114,117,120,123], "labelExpr": "((datum.value - 96) % 24) + ':00'", "grid": false, "tickSize": 5, "labelPadding": 11, "labelFlush": false, "labelOverlap": false}},
        "y": {"field": "c", "type": "quantitative", "title": null},
        "color": {"datum": "CLOSE"}
       }}
     ]}
   ]},
  {"width": 941, "height": 1, "data": {"values": [{"a": -71, "b": 941, "v": 1}]}, "mark": {"type": "rule", "color": "#9a9a9a", "strokeWidth": 1.5},
   "encoding": {"x": {"field": "a", "type": "quantitative", "axis": null, "scale": {"domain": [0, 941], "nice": false, "zero": false}}, "x2": {"field": "b"}, "y": {"field": "v", "type": "quantitative", "axis": null, "scale": {"domain": [0, 1]}}}}
 ]},
 {"spacing": 14, "resolve": {"scale": {"color": "independent"}, "legend": {"color": "independent"}}, "vconcat": [
  {"title": {"text": "Daily Close Chart", "anchor": "start", "fontSize": 15, "fontWeight": "bold", "color": "#1a1a1a", "offset": 7, "dx": 3},
   "spacing": 98,
   "resolve": {"scale": {"color": "independent"}, "legend": {"color": "independent"}},
   "hconcat": [
    {"spacing": -22, "resolve": {"scale": {"color": "independent"}, "legend": {"color": "independent"}}, "vconcat": [
     {"width": 1, "height": 1, "data": {"values": [{"t": ""}]}, "mark": {"type": "text"}, "encoding": {"text": {"field": "t", "type": "nominal"}}},
     {"spacing": 11, "resolve": {"scale": {"color": "independent"}, "legend": {"color": "independent"}}, "vconcat": [
      {"width": 362, "height": 129,
       "layer": [
        {"data": {"name": "daily"}, "mark": {"type": "rule", "color": "#111111", "strokeWidth": 2},
         "encoding": {
          "x": {"field": "i", "type": "quantitative", "title": null, "scale": {"domain": [0, 131], "nice": false, "zero": false},
                "axis": {"values": [0,20,40,60,80,100,120], "labelExpr": "['4-Oct','1-Nov','29-Nov','27-Dec','24-Jan','21-Feb','21-Mar'][round(datum.value/20)]", "grid": false, "tickSize": 4, "labelPadding": 9, "labelFlush": false, "labelOverlap": false}},
          "y": {"field": "lo", "type": "quantitative", "title": null, "scale": {"domain": [1.51, 1.645], "nice": false, "zero": false},
                "axis": {"values": [1.51, 1.555, 1.6, 1.645], "format": ".4f", "grid": true, "tickSize": 4, "labelPadding": 2, "minExtent": 71}},
          "y2": {"field": "hi"}
         }},
        {"data": {"name": "dma"}, "mark": {"type": "line", "strokeWidth": 2.2},
         "encoding": {
          "x": {"field": "i", "type": "quantitative", "title": null},
          "y": {"field": "v", "type": "quantitative", "title": null},
          "color": {"field": "s", "type": "nominal", "title": null, "scale": {"domain": ["20 Day", "50 Day", "200 Day"], "range": ["#5a8fd0", "#d42a2a", "#2fb050"]},
                    "legend": {"orient": "none", "legendX": 40, "legendY": -27, "direction": "horizontal", "title": null, "symbolType": "stroke", "symbolSize": 900, "symbolStrokeWidth": 2, "columnPadding": 33, "labelOffset": 3, "labelFontSize": 13}}
         }}
       ]},
      {"width": 362, "height": 77,
       "layer": [
        {"data": {"name": "ddiv"}, "mark": {"type": "rule", "strokeWidth": 1},
         "encoding": {
          "x": {"field": "i", "type": "quantitative", "title": null, "scale": {"domain": [0, 131], "nice": false, "zero": false}, "axis": {"labels": false, "ticks": false, "grid": false, "domain": true}},
          "y": {"field": "d", "type": "quantitative", "title": null, "scale": {"domain": [-0.045, 0.045], "nice": false}, "axis": {"values": [-0.045, 0, 0.045], "format": ".4f", "grid": true, "tickSize": 4, "labelPadding": 2, "minExtent": 71}},
          "y2": {"datum": 0},
          "color": {"datum": "Divergence", "title": null, "scale": {"domain": ["Divergence", "MACD", "MACD Signal Line"], "range": ["#6e6e6e", "#d42a2a", "#2fb050"]},
                    "legend": {"orient": "none", "legendX": 11, "legendY": 89, "direction": "horizontal", "title": null, "symbolType": "stroke", "symbolSize": 900, "symbolStrokeWidth": 2, "columnPadding": 13, "labelOffset": 8, "labelFontSize": 13,
                               "encode": {"symbols": {"update": {"strokeWidth": {"signal": "datum.label === 'Divergence' ? 6 : 2"}}}}}}
         }},
        {"data": {"name": "dmacd"}, "mark": {"type": "line", "strokeWidth": 2.2},
         "encoding": {
          "x": {"field": "i", "type": "quantitative", "title": null},
          "y": {"field": "v", "type": "quantitative", "title": null},
          "color": {"field": "s", "type": "nominal", "title": null}
         }}
       ]}
     ]}
    ]},
    {"width": 401, "height": 195,
     "layer": [
      {"data": {"name": "dlev"}, "mark": {"type": "rule", "strokeWidth": 2},
       "encoding": {
        "y": {"field": "v", "type": "quantitative", "title": null, "scale": {"domain": [1.578, 1.638], "nice": false, "zero": false},
              "axis": {"values": [1.578, 1.593, 1.608, 1.623, 1.638], "format": ".4f", "grid": false, "tickSize": 5, "labelPadding": 9}},
        "color": {"field": "s", "type": "nominal", "title": null, "scale": {"domain": ["CLOSE", "R2", "R1", "S1", "S2"], "range": ["#2f7ec4", "#c4d79b", "#e6b8b7", "#b3a2c7", "#92cddc"]},
                  "legend": {"orient": "none", "legendX": -24, "legendY": 242, "direction": "horizontal", "title": "Note: Support & Resistance Calculated based on 24 Hr Pivot Points", "titleOrient": "bottom", "titleAnchor": "middle", "titleFontWeight": "normal", "titleFontSize": 13, "titleColor": "#333333", "titleLimit": 600, "titlePadding": 9, "titleFont": "Liberation Sans", "symbolType": "stroke", "symbolSize": 900, "symbolStrokeWidth": 2, "labelFontSize": 11, "columnPadding": 33, "labelOffset": 3}}
       }},
      {"data": {"name": "dlev"}, "mark": {"type": "text", "align": "right", "baseline": "bottom", "dx": -4, "dy": -3, "fontSize": 12, "color": "#4a3d5c"},
       "encoding": {
        "x": {"datum": 123.4},
        "y": {"field": "v", "type": "quantitative", "title": null},
        "text": {"field": "v", "type": "quantitative", "format": ".4f"}
       }},
      {"data": {"name": "hourly"}, "mark": {"type": "line", "strokeWidth": 2.5},
       "encoding": {
        "x": {"field": "h", "type": "quantitative", "title": null, "scale": {"domain": [0, 123.4], "nice": false, "zero": false},
              "axis": {"values": [0,20,40,60,80,100,120], "labelExpr": "[['29 Mar','0:00'],['29 Mar','20:00'],['30 Mar','16:00'],['31 Mar','12:00'],['1 Apr','8:00'],['4 Apr','4:00'],['5 Apr','0:00']][round(datum.value/20)]", "grid": false, "tickSize": 5, "labelPadding": 11, "labelLineHeight": 15, "labelFlush": false, "labelOverlap": false}},
        "y": {"field": "c", "type": "quantitative", "title": null},
        "color": {"datum": "CLOSE"}
       }}
     ]}
   ]},
  {"width": 941, "height": 1, "data": {"values": [{"a": -71, "b": 941, "v": 1}]}, "mark": {"type": "rule", "color": "#9a9a9a", "strokeWidth": 1.5},
   "encoding": {"x": {"field": "a", "type": "quantitative", "axis": null, "scale": {"domain": [0, 941], "nice": false, "zero": false}}, "x2": {"field": "b"}, "y": {"field": "v", "type": "quantitative", "axis": null, "scale": {"domain": [0, 1]}}}}
 ]}
]
}
